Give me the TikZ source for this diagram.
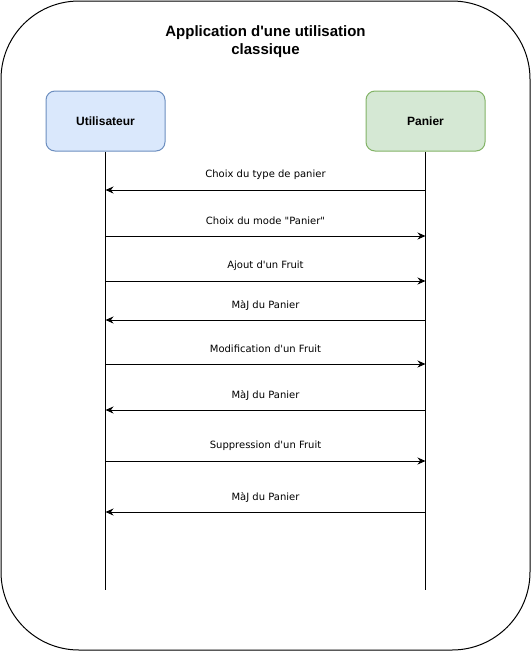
\documentclass[tikz,border=0pt]{standalone}
\usepackage{fontspec}
\setmainfont{Liberation Sans}
\newfontfamily\msgfont{DejaVu Sans}
\usetikzlibrary{arrows.meta}
\definecolor{bleu}{HTML}{DAE8FC}
\definecolor{bleubord}{HTML}{6C8EBF}
\definecolor{vert}{HTML}{D5E8D4}
\definecolor{vertbord}{HTML}{82B366}
\begin{document}
\begin{tikzpicture}[x=1pt, y=-1pt, >={Stealth[length=8pt,width=7pt]}, line width=1pt,
    actor/.style={draw, rounded corners=9pt, minimum width=119pt, minimum height=60pt, font=\bfseries\fontsize{12}{14}\selectfont},
    msg/.style={font=\msgfont\fontsize{10}{12}\selectfont}]
    \useasboundingbox (0,0) rectangle (531,651);
    \draw[rounded corners=78pt] (1,1) rectangle (530,650);
    \node[align=center, font=\bfseries\fontsize{15}{18}\selectfont] (titre) at (265.5,42) {Application d\textquotesingle une utilisation\\classique};
    \node[actor, fill=bleu, draw=bleubord] (user) at (105.5,121) {Utilisateur};
    \node[actor, fill=vert, draw=vertbord] (panier) at (425.5,121) {Panier};
    \coordinate (userfin) at (105.5,590);
    \coordinate (panierfin) at (425.5,590);
    \draw (user) -- (userfin);
    \draw (panier) -- (panierfin);
    % messages
    \foreach \y/\txt/\dir [count=\i] in {190/Choix du type de panier/<-, 236/Choix du mode "Panier"/->,
        281/Ajout d'un Fruit/->, 320/MàJ du Panier/<-, 364/Modification d'un Fruit/->,
        410/MàJ du Panier/<-, 461/Suppression d'un Fruit/->, 512/MàJ du Panier/<-}{
        \coordinate (u\i) at (105.5,\y);
        \coordinate (p\i) at (425.5,\y);
        \draw[\dir] (u\i) -- node[msg, yshift=15pt]{\txt} (p\i);
    }
\end{tikzpicture}
\end{document}
